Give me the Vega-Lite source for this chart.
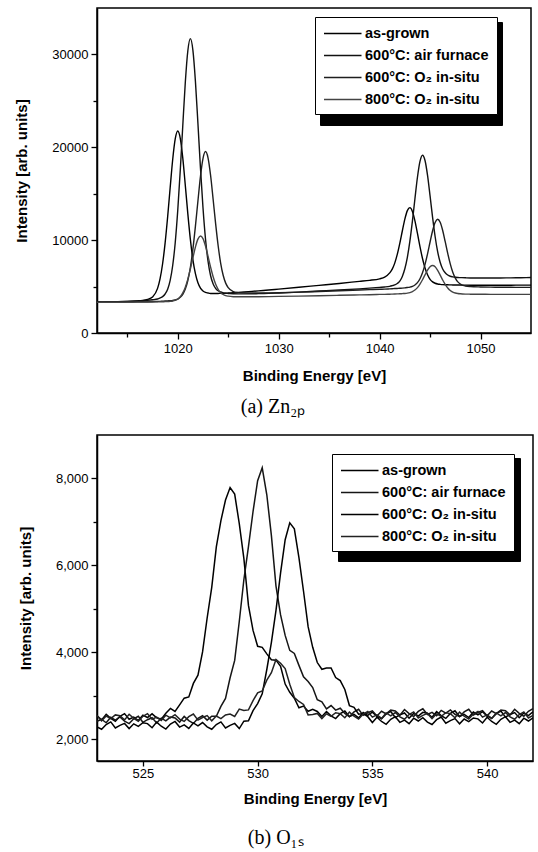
{
"$schema": "https://vega.github.io/schema/vega-lite/v6.json",
"background": "white",
"padding": {"left": 14, "top": 7, "right": 4, "bottom": 0},
"spacing": 16,
"resolve": {"scale": {"color": "independent", "opacity": "independent"}, "legend": {"color": "independent", "opacity": "independent"}},
"config": {
 "view": {"stroke": "black", "strokeWidth": 1.5},
 "font": "Liberation Sans",
 "axis": {"grid": false, "domainColor": "black", "domainWidth": 1.5, "tickColor": "black", "tickWidth": 1.3, "labelColor": "black", "labelFont": "Liberation Sans", "labelFontSize": 13, "titleFont": "Liberation Sans", "titleFontSize": 15, "titleFontWeight": "bold", "titleColor": "black"},
 "legend": {"labelFont": "Liberation Sans", "labelFontSize": 14.5, "labelFontWeight": "bold", "labelColor": "black", "symbolType": "M-1,0H4", "symbolSize": 225, "symbolStrokeWidth": 1.5, "padding": 8, "rowPadding": 7, "labelOffset": 25}
},
"vconcat": [
 {
  "width": 434, "height": 325,
  "title": {"text": "(a)  Zn₂ₚ", "orient": "bottom", "anchor": "middle", "frame": "bounds", "font": "Liberation Serif", "fontSize": 20, "fontWeight": "normal", "color": "black", "offset": 14},
  "data": {"values": [
   {"x":1012,"a":3340,"b":3350,"c":3320,"d":3300},
   {"x":1013,"a":3355,"b":3360,"c":3325,"d":3310},
   {"x":1014,"a":3375,"b":3380,"c":3330,"d":3315},
   {"x":1015,"a":3405,"b":3405,"c":3340,"d":3320},
   {"x":1016,"a":3460,"b":3450,"c":3350,"d":3325},
   {"x":1016.5,"a":3500,"b":3480,"c":3360,"d":3330},
   {"x":1017,"a":3610,"b":3520,"c":3370,"d":3340},
   {"x":1017.5,"a":3880,"b":3580,"c":3385,"d":3345},
   {"x":1018,"a":4805,"b":3665,"c":3400,"d":3355},
   {"x":1018.25,"a":5860,"b":3780,"c":3410,"d":3360},
   {"x":1018.5,"a":7460,"b":3920,"c":3425,"d":3370},
   {"x":1018.75,"a":9710,"b":4200,"c":3440,"d":3375},
   {"x":1019,"a":12525,"b":4705,"c":3460,"d":3390},
   {"x":1019.25,"a":15665,"b":5665,"c":3475,"d":3415},
   {"x":1019.5,"a":18680,"b":7270,"c":3505,"d":3450},
   {"x":1019.75,"a":20895,"b":9725,"c":3570,"d":3520},
   {"x":1020,"a":21750,"b":13185,"c":3650,"d":3645},
   {"x":1020.25,"a":20970,"b":17515,"c":3845,"d":3900},
   {"x":1020.5,"a":18830,"b":22355,"c":4170,"d":4315},
   {"x":1020.75,"a":15890,"b":27000,"c":4730,"d":4935},
   {"x":1021,"a":12825,"b":30400,"c":5655,"d":5805},
   {"x":1021.25,"a":10085,"b":31700,"c":7055,"d":6890},
   {"x":1021.5,"a":7910,"b":30470,"c":9025,"d":8095},
   {"x":1021.75,"a":6385,"b":27130,"c":11480,"d":9255},
   {"x":1022,"a":5405,"b":22555,"c":14220,"d":10110},
   {"x":1022.25,"a":4835,"b":17780,"c":16855,"d":10450},
   {"x":1022.5,"a":4530,"b":13515,"c":18790,"d":10170},
   {"x":1022.75,"a":4375,"b":10120,"c":19540,"d":9365},
   {"x":1023,"a":4310,"b":7740,"c":18870,"d":8265},
   {"x":1023.25,"a":4260,"b":6195,"c":17015,"d":7110},
   {"x":1023.5,"a":4250,"b":5305,"c":14460,"d":6085},
   {"x":1023.75,"a":4255,"b":4815,"c":11800,"d":5270},
   {"x":1024,"a":4260,"b":4545,"c":9425,"d":4705},
   {"x":1024.25,"a":4270,"b":4420,"c":7535,"d":4345},
   {"x":1024.5,"a":4275,"b":4320,"c":6215,"d":4145},
   {"x":1024.75,"a":4285,"b":4275,"c":5370,"d":4025},
   {"x":1025,"a":4305,"b":4260,"c":4890,"d":3965},
   {"x":1025.5,"a":4335,"b":4230,"c":4465,"d":3910},
   {"x":1026,"a":4375,"b":4215,"c":4345,"d":3900},
   {"x":1027,"a":4455,"b":4215,"c":4300,"d":3900},
   {"x":1028,"a":4540,"b":4235,"c":4300,"d":3905},
   {"x":1029,"a":4635,"b":4265,"c":4315,"d":3920},
   {"x":1030,"a":4725,"b":4305,"c":4340,"d":3940},
   {"x":1032,"a":4920,"b":4400,"c":4400,"d":3975},
   {"x":1034,"a":5130,"b":4520,"c":4475,"d":4015},
   {"x":1036,"a":5335,"b":4630,"c":4550,"d":4060},
   {"x":1038,"a":5560,"b":4755,"c":4625,"d":4105},
   {"x":1039,"a":5670,"b":4830,"c":4670,"d":4125},
   {"x":1040,"a":5835,"b":4915,"c":4715,"d":4155},
   {"x":1040.5,"a":6010,"b":4955,"c":4725,"d":4165},
   {"x":1041,"a":6470,"b":5025,"c":4755,"d":4180},
   {"x":1041.25,"a":6875,"b":5095,"c":4770,"d":4190},
   {"x":1041.5,"a":7525,"b":5175,"c":4785,"d":4200},
   {"x":1041.75,"a":8460,"b":5330,"c":4800,"d":4210},
   {"x":1042,"a":9650,"b":5590,"c":4820,"d":4220},
   {"x":1042.25,"a":10985,"b":6095,"c":4835,"d":4240},
   {"x":1042.5,"a":12260,"b":6920,"c":4860,"d":4260},
   {"x":1042.75,"a":13180,"b":8155,"c":4900,"d":4295},
   {"x":1043,"a":13500,"b":9890,"c":4945,"d":4355},
   {"x":1043.25,"a":13095,"b":12050,"c":5025,"d":4455},
   {"x":1043.5,"a":12085,"b":14460,"c":5170,"d":4625},
   {"x":1043.75,"a":10720,"b":16775,"c":5420,"d":4890},
   {"x":1044,"a":9300,"b":18480,"c":5840,"d":5265},
   {"x":1044.25,"a":8025,"b":19150,"c":6480,"d":5735},
   {"x":1044.5,"a":7000,"b":18580,"c":7390,"d":6260},
   {"x":1044.75,"a":6265,"b":16975,"c":8525,"d":6765},
   {"x":1045,"a":5770,"b":14760,"c":9800,"d":7135},
   {"x":1045.25,"a":5505,"b":12450,"c":11015,"d":7270},
   {"x":1045.5,"a":5360,"b":10390,"c":11910,"d":7130},
   {"x":1045.75,"a":5280,"b":8755,"c":12250,"d":6755},
   {"x":1046,"a":5240,"b":7620,"c":11920,"d":6240},
   {"x":1046.25,"a":5210,"b":6895,"c":11040,"d":5710},
   {"x":1046.5,"a":5195,"b":6490,"c":9830,"d":5230},
   {"x":1046.75,"a":5190,"b":6245,"c":8570,"d":4850},
   {"x":1047,"a":5180,"b":6115,"c":7445,"d":4580},
   {"x":1047.25,"a":5175,"b":6050,"c":6545,"d":4405},
   {"x":1047.5,"a":5165,"b":6000,"c":5915,"d":4305},
   {"x":1047.75,"a":5165,"b":5975,"c":5505,"d":4250},
   {"x":1048,"a":5160,"b":5965,"c":5270,"d":4220},
   {"x":1048.5,"a":5155,"b":5945,"c":5065,"d":4190},
   {"x":1049,"a":5150,"b":5930,"c":5000,"d":4180},
   {"x":1050,"a":5150,"b":5925,"c":4960,"d":4170},
   {"x":1051,"a":5150,"b":5925,"c":4940,"d":4165},
   {"x":1052,"a":5150,"b":5930,"c":4930,"d":4160},
   {"x":1053,"a":5150,"b":5940,"c":4920,"d":4160},
   {"x":1054,"a":5155,"b":5955,"c":4915,"d":4155},
   {"x":1055,"a":5160,"b":5970,"c":4915,"d":4155}
  ]},
  "transform": [
   {"fold": ["a","b","c","d"], "as": ["s","y"]},
   {"calculate": "datum.s + 'x'", "as": "s2"}
  ],
  "mark": {"type": "line", "strokeWidth": 1.4, "interpolate": "monotone", "clip": true},
  "encoding": {
   "x": {"field": "x", "type": "quantitative", "scale": {"domain": [1012, 1055], "nice": false, "zero": false},
     "axis": {"values": [1015,1020,1025,1030,1035,1040,1045,1050], "format": "d", "labelExpr": "datum.value % 10 == 0 ? datum.label : ''", "tickSize": {"condition": {"test": "datum.value % 10 == 0", "value": 6}, "value": 4}, "labelPadding": 3, "title": "Binding Energy  [eV]", "titlePadding": 13}},
   "y": {"field": "y", "type": "quantitative", "scale": {"domain": [0, 35000], "nice": false},
     "axis": {"values": [0,5000,10000,15000,20000,25000,30000], "format": "d", "labelExpr": "datum.value % 10000 == 0 ? datum.label : ''", "tickSize": {"condition": {"test": "datum.value % 10000 == 0", "value": 6}, "value": 4}, "labelPadding": 3, "title": "Intensity [arb. units]", "titlePadding": 22}},
   "color": {"field": "s", "type": "nominal", "scale": {"domain": ["a","b","c","d"], "range": ["#000000","#111111","#1e1e1e","#444444"]},
     "legend": {"orient": "none", "legendX": 218, "legendY": 9, "strokeColor": "black", "fillColor": "white", "zindex": 2, "title": null, "labelExpr": "datum.label == 'a' ? 'as-grown' : datum.label == 'b' ? '600°C: air furnace' : datum.label == 'c' ? '600°C: O₂ in-situ' : '800°C: O₂ in-situ'"}},
   "opacity": {"field": "s2", "type": "ordinal", "scale": {"domain": ["ax","bx","cx","dx"], "range": [1,1,1,1]},
     "legend": {"orient": "none", "legendX": 223, "legendY": 14, "strokeColor": "black", "fillColor": "black", "symbolStrokeColor": "black", "zindex": 1, "title": null, "labelExpr": "''", "labelOffset": 149, "rowPadding": 9}}
  }
 },
 {
  "width": 436, "height": 326,
  "title": {"text": "(b)  O₁ₛ", "orient": "bottom", "anchor": "middle", "frame": "bounds", "font": "Liberation Serif", "fontSize": 20, "fontWeight": "normal", "color": "black", "offset": 22},
  "data": {"values": [
   {"x":523.0,"a":2540,"b":2410,"c":2285,"d":2545},
   {"x":523.2,"a":2445,"b":2460,"c":2230,"d":2425},
   {"x":523.4,"a":2575,"b":2380,"c":2340,"d":2535},
   {"x":523.6,"a":2480,"b":2505,"c":2400,"d":2475},
   {"x":523.8,"a":2415,"b":2440,"c":2260,"d":2560},
   {"x":524.0,"a":2530,"b":2515,"c":2320,"d":2540},
   {"x":524.2,"a":2590,"b":2415,"c":2365,"d":2445},
   {"x":524.4,"a":2460,"b":2360,"c":2245,"d":2575},
   {"x":524.6,"a":2510,"b":2470,"c":2355,"d":2480},
   {"x":524.8,"a":2430,"b":2530,"c":2295,"d":2415},
   {"x":525.0,"a":2555,"b":2390,"c":2380,"d":2530},
   {"x":525.2,"a":2500,"b":2450,"c":2360,"d":2590},
   {"x":525.4,"a":2585,"b":2495,"c":2265,"d":2460},
   {"x":525.6,"a":2495,"b":2375,"c":2395,"d":2510},
   {"x":525.8,"a":2460,"b":2485,"c":2300,"d":2430},
   {"x":526.0,"a":2600,"b":2425,"c":2235,"d":2555},
   {"x":526.2,"a":2710,"b":2510,"c":2350,"d":2490},
   {"x":526.4,"a":2640,"b":2490,"c":2410,"d":2565},
   {"x":526.6,"a":2790,"b":2395,"c":2280,"d":2465},
   {"x":526.8,"a":2945,"b":2525,"c":2330,"d":2410},
   {"x":527.0,"a":2975,"b":2430,"c":2250,"d":2520},
   {"x":527.2,"a":3285,"b":2365,"c":2375,"d":2580},
   {"x":527.4,"a":3475,"b":2480,"c":2310,"d":2440},
   {"x":527.6,"a":4010,"b":2540,"c":2385,"d":2500},
   {"x":527.8,"a":4790,"b":2440,"c":2285,"d":2545},
   {"x":528.0,"a":5495,"b":2530,"c":2230,"d":2425},
   {"x":528.2,"a":6425,"b":2530,"c":2340,"d":2535},
   {"x":528.4,"a":7030,"b":2755,"c":2400,"d":2475},
   {"x":528.6,"a":7505,"b":2940,"c":2260,"d":2560},
   {"x":528.8,"a":7790,"b":3415,"c":2320,"d":2580},
   {"x":529.0,"a":7640,"b":3815,"c":2365,"d":2525},
   {"x":529.2,"a":6960,"b":4710,"c":2245,"d":2695},
   {"x":529.4,"a":6160,"b":5670,"c":2415,"d":2660},
   {"x":529.6,"a":5080,"b":6430,"c":2425,"d":2675},
   {"x":529.8,"a":4505,"b":7240,"c":2660,"d":2890},
   {"x":530.0,"a":4140,"b":7950,"c":2820,"d":3070},
   {"x":530.2,"a":4115,"b":8245,"c":3045,"d":3110},
   {"x":530.4,"a":3965,"b":7625,"c":3605,"d":3360},
   {"x":530.6,"a":3830,"b":6685,"c":4230,"d":3530},
   {"x":530.8,"a":3820,"b":5525,"c":4965,"d":3835},
   {"x":531.0,"a":3680,"b":4860,"c":5830,"d":3750},
   {"x":531.2,"a":3270,"b":4390,"c":6590,"d":3625},
   {"x":531.4,"a":3080,"b":4045,"c":6980,"d":3265},
   {"x":531.6,"a":2945,"b":3975,"c":6840,"d":2960},
   {"x":531.8,"a":2725,"b":3700,"c":6180,"d":2870},
   {"x":532.0,"a":2765,"b":3435,"c":5405,"d":2800},
   {"x":532.2,"a":2645,"b":3330,"c":4590,"d":2560},
   {"x":532.4,"a":2690,"b":3190,"c":4115,"d":2570},
   {"x":532.6,"a":2640,"b":2910,"c":3765,"d":2595},
   {"x":532.8,"a":2525,"b":2860,"c":3610,"d":2475},
   {"x":533.0,"a":2635,"b":2700,"c":3640,"d":2585},
   {"x":533.2,"a":2540,"b":2775,"c":3640,"d":2525},
   {"x":533.4,"a":2475,"b":2670,"c":3420,"d":2610},
   {"x":533.6,"a":2590,"b":2715,"c":3350,"d":2590},
   {"x":533.8,"a":2650,"b":2595,"c":3145,"d":2495},
   {"x":534.0,"a":2520,"b":2520,"c":2775,"d":2625},
   {"x":534.2,"a":2570,"b":2630,"c":2735,"d":2530},
   {"x":534.4,"a":2490,"b":2690,"c":2575,"d":2465},
   {"x":534.6,"a":2615,"b":2550,"c":2590,"d":2580},
   {"x":534.8,"a":2550,"b":2610,"c":2520,"d":2640},
   {"x":535.0,"a":2625,"b":2655,"c":2385,"d":2510},
   {"x":535.2,"a":2525,"b":2535,"c":2505,"d":2560},
   {"x":535.4,"a":2470,"b":2645,"c":2410,"d":2480},
   {"x":535.6,"a":2580,"b":2585,"c":2345,"d":2605},
   {"x":535.8,"a":2640,"b":2670,"c":2460,"d":2540},
   {"x":536.0,"a":2500,"b":2650,"c":2520,"d":2615},
   {"x":536.2,"a":2560,"b":2555,"c":2390,"d":2515},
   {"x":536.4,"a":2605,"b":2685,"c":2440,"d":2460},
   {"x":536.6,"a":2485,"b":2590,"c":2360,"d":2570},
   {"x":536.8,"a":2595,"b":2525,"c":2485,"d":2630},
   {"x":537.0,"a":2535,"b":2640,"c":2420,"d":2490},
   {"x":537.2,"a":2620,"b":2700,"c":2495,"d":2550},
   {"x":537.4,"a":2600,"b":2570,"c":2395,"d":2595},
   {"x":537.6,"a":2505,"b":2620,"c":2340,"d":2475},
   {"x":537.8,"a":2635,"b":2540,"c":2450,"d":2585},
   {"x":538.0,"a":2545,"b":2665,"c":2510,"d":2525},
   {"x":538.2,"a":2480,"b":2600,"c":2370,"d":2610},
   {"x":538.4,"a":2595,"b":2675,"c":2430,"d":2590},
   {"x":538.6,"a":2655,"b":2575,"c":2475,"d":2495},
   {"x":538.8,"a":2525,"b":2520,"c":2355,"d":2625},
   {"x":539.0,"a":2575,"b":2630,"c":2465,"d":2530},
   {"x":539.2,"a":2500,"b":2690,"c":2405,"d":2465},
   {"x":539.4,"a":2625,"b":2555,"c":2490,"d":2580},
   {"x":539.6,"a":2560,"b":2615,"c":2470,"d":2640},
   {"x":539.8,"a":2635,"b":2660,"c":2375,"d":2510},
   {"x":540.0,"a":2535,"b":2540,"c":2505,"d":2560},
   {"x":540.2,"a":2480,"b":2650,"c":2410,"d":2480},
   {"x":540.4,"a":2590,"b":2590,"c":2345,"d":2605},
   {"x":540.6,"a":2650,"b":2675,"c":2460,"d":2540},
   {"x":540.8,"a":2510,"b":2655,"c":2520,"d":2615},
   {"x":541.0,"a":2570,"b":2560,"c":2390,"d":2515},
   {"x":541.2,"a":2615,"b":2690,"c":2440,"d":2460},
   {"x":541.4,"a":2495,"b":2595,"c":2360,"d":2570},
   {"x":541.6,"a":2605,"b":2530,"c":2485,"d":2630},
   {"x":541.8,"a":2545,"b":2645,"c":2420,"d":2490},
   {"x":542.0,"a":2630,"b":2705,"c":2495,"d":2550}
  ]},
  "transform": [
   {"fold": ["a","b","c","d"], "as": ["s","y"]},
   {"calculate": "datum.s + 'x'", "as": "s2"}
  ],
  "mark": {"type": "line", "strokeWidth": 1.5, "clip": true},
  "encoding": {
   "x": {"field": "x", "type": "quantitative", "scale": {"domain": [523, 542], "nice": false, "zero": false},
     "axis": {"values": [525,530,535,540], "format": "d", "tickSize": 5, "labelPadding": 1, "title": "Binding Energy  [eV]", "titlePadding": 11}},
   "y": {"field": "y", "type": "quantitative", "scale": {"domain": [1500, 9000], "nice": false, "zero": false},
     "axis": {"values": [2000,3000,4000,5000,6000,7000,8000], "labelExpr": "datum.value % 2000 == 0 ? format(datum.value, ',') : ''", "tickSize": {"condition": {"test": "datum.value % 2000 == 0", "value": 6}, "value": 4}, "labelPadding": 3, "title": "Intensity [arb. units]", "titlePadding": 22}},
   "color": {"field": "s", "type": "nominal", "scale": {"domain": ["a","b","c","d"], "range": ["#000000","#151515","#000000","#222222"]},
     "legend": {"orient": "none", "legendX": 235, "legendY": 19, "strokeColor": "black", "fillColor": "white", "zindex": 2, "title": null, "labelExpr": "datum.label == 'a' ? 'as-grown' : datum.label == 'b' ? '600°C: air furnace' : datum.label == 'c' ? '600°C: O₂ in-situ' : '800°C: O₂ in-situ'"}},
   "opacity": {"field": "s2", "type": "ordinal", "scale": {"domain": ["ax","bx","cx","dx"], "range": [1,1,1,1]},
     "legend": {"orient": "none", "legendX": 241, "legendY": 23, "strokeColor": "black", "fillColor": "black", "symbolStrokeColor": "black", "zindex": 1, "title": null, "labelExpr": "''", "labelOffset": 149, "rowPadding": 9}}
  }
 }
]
}
